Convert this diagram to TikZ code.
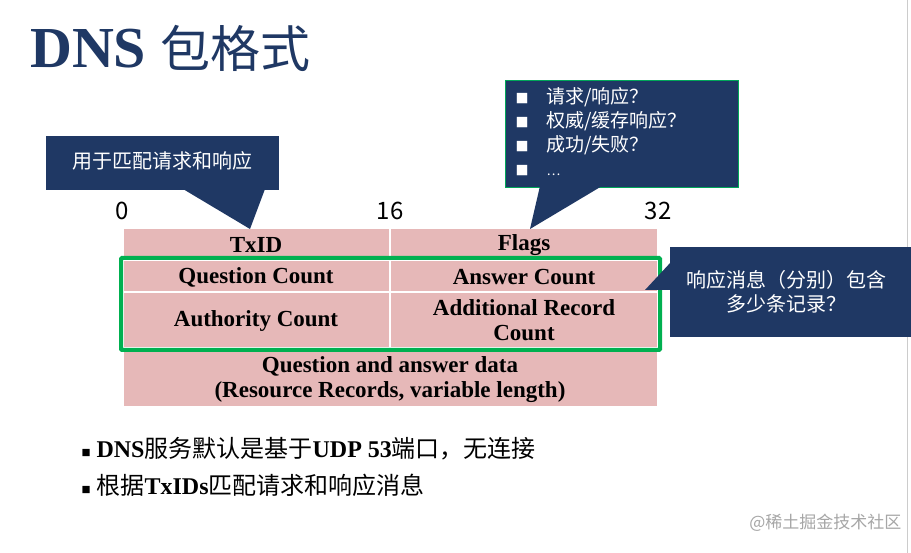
\documentclass[tikz,border=0pt]{standalone}
\usepackage{fontspec}
\setmainfont{Liberation Serif}
\newfontfamily\cjk{Noto Sans CJK SC}
\definecolor{navy}{RGB}{31,56,100}
\definecolor{pinkc}{RGB}{230,184,184}
\definecolor{greenb}{RGB}{0,176,80}
\begin{document}
\begin{tikzpicture}[x=1pt,y=-1pt,
  cell/.style={fill=pinkc,draw=white,line width=1.2pt},
  lbl/.style={font=\bfseries\fontsize{23}{25}\selectfont,align=center},
  callout/.style={fill=navy},
  ctext/.style={text=white,font=\cjk\fontsize{20}{24}\selectfont,align=left},
  bit/.style={font=\cjk\fontsize{24}{26}\selectfont}]
\useasboundingbox (0,0) rectangle (911,553);
\fill[white] (0,0) rectangle (911,553);
\draw[gray!40,line width=1pt] (907,0) -- (907,553);
% title
\node[anchor=west,text=navy,inner sep=0] (title) at (30,48) {\fontsize{58}{60}\selectfont\bfseries DNS {\cjk\mdseries\fontsize{50}{52}\selectfont 包格式}};
% table
\draw[cell] (123,228) rectangle (390,260);
\draw[cell] (390,228) rectangle (658,260);
\draw[cell] (123,260) rectangle (390,292);
\draw[cell] (390,260) rectangle (658,292);
\draw[cell] (123,292) rectangle (390,348);
\draw[cell] (390,292) rectangle (658,348);
\draw[cell] (123,348) rectangle (658,407);
\node[lbl] (txid) at (256,245) {TxID};
\node[lbl] (flags) at (524,245) {Flags};
\node[lbl] (qc) at (256,277) {Question Count};
\node[lbl] (ac) at (524,277) {Answer Count};
\node[lbl] (auc) at (256,321) {Authority Count};
\node[lbl] (adc) at (524,320) {Additional Record\\Count};
\node[lbl] (data) at (390,380) {Question and answer data\\(Resource Records, variable length)};
\draw[greenb,line width=4pt,rounded corners=1pt] (121,258) rectangle (660,350);
% bit labels
\node[bit] (b0) at (122,211) {0};
\node[bit] (b16) at (390,211) {16};
\node[bit] (b32) at (658,211) {32};
% callout 1
\fill[callout] (46,136) rectangle (279,190);
\fill[callout] (183,189) -- (250,229) -- (265,189) -- cycle;
\node[ctext] (c1) at (162,161) {用于匹配请求和响应};
% callout 2
\fill[callout,draw=teal!70!green,line width=0.8pt] (505,80) rectangle (738,187);
\fill[callout] (540,186) -- (530,229) -- (602,186) -- cycle;
\node[ctext,anchor=north west,font=\cjk\fontsize{19}{24}\selectfont] (c2) at (512,84) {\rlap{\fontsize{13}{13}\selectfont■}\hspace{31pt}请求/响应？\\\rlap{\fontsize{13}{13}\selectfont■}\hspace{31pt}权威/缓存响应？\\\rlap{\fontsize{13}{13}\selectfont■}\hspace{31pt}成功/失败？\\\rlap{\fontsize{13}{13}\selectfont■}\hspace{31pt}{\fontsize{13}{13}\selectfont …}};
% callout 3
\fill[callout] (670,247) rectangle (911,337);
\fill[callout] (671,262) -- (645,290) -- (671,290) -- cycle;
\node[ctext,align=center] (c3) at (786,292) {响应消息（分别）包含\\多少条记录？};
% bullets
\node[anchor=west,font=\fontsize{24}{37}\selectfont,align=left] (bul) at (78,467) {{\fontsize{15}{15}\selectfont■}\hspace{6pt}\textbf{DNS}{\cjk 服务默认是基于}\textbf{UDP 53}{\cjk 端口，无连接}\\{\fontsize{15}{15}\selectfont■}\hspace{6pt}{\cjk 根据}\textbf{TxIDs}{\cjk 匹配请求和响应消息}};
% watermark
\node[anchor=east,text=gray!70,font=\cjk\fontsize{17}{17}\selectfont] (wm) at (905,523) {@稀土掘金技术社区};
\end{tikzpicture}
\end{document}
